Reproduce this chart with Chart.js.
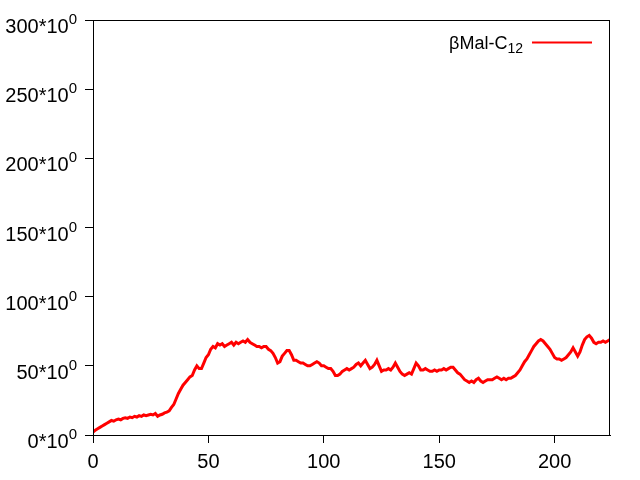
<!DOCTYPE html>
<html>
<head>
<meta charset="utf-8">
<script src="https://cdn.jsdelivr.net/npm/chart.js@4.4.0/dist/chart.umd.min.js"></script>
<style>
    html, body { margin: 0; padding: 0; background: #fff; }
    #wrap { width: 640px; height: 480px; }
</style>
</head>
<body>
<div id="wrap"><canvas id="chart"></canvas></div>
<script>
// time axis (one sample per unit)
const timeStart = 0;
const timeEnd = 224;
const seriesLabel = "βMal-C";
const seriesSub = "12";
const seriesValues = [
    2, 3.5, 4.5, 5.5, 6.5, 7.5, 8.5, 9.5, 10.5, 10,
    11, 11.5, 11, 12, 12.5, 12, 13, 12.5, 13.5, 13,
    14, 13.5, 14.5, 14, 14.5, 15, 14.5, 15.5, 13.5, 14.5,
    15, 16, 16.5, 17.5, 20, 22, 26, 30, 33, 36,
    38, 40, 42, 43, 47, 50, 48, 48, 52, 56,
    58, 62, 64, 63, 66, 65, 66, 64, 65, 66,
    67, 65, 67, 66, 67, 68, 67, 69, 67, 66,
    65, 64, 64, 63, 64, 64, 62, 61, 59, 56,
    52, 53, 57, 59, 61, 61, 58, 54, 54, 53,
    52, 52, 51, 50, 50, 51, 52, 53, 52, 50,
    50, 49, 48, 48, 46, 43, 43, 44, 46, 47,
    48, 47, 48, 49, 51, 52, 50, 52, 54, 51,
    48, 49, 51, 54, 50, 46, 47, 47, 48, 47,
    49, 52, 49, 46, 44, 43, 44, 45, 44, 48,
    52, 50, 47, 47, 48, 47, 46, 46, 47, 46,
    47, 47, 48, 47, 48, 49, 49, 47, 45, 44,
    42, 40, 39, 38, 39, 38, 40, 41, 39, 38,
    39, 40, 40, 40, 41, 42, 41, 40, 41, 40,
    41, 41, 42, 43, 45, 47, 50, 53, 55, 58,
    61, 64, 66, 68, 69, 68, 66, 64, 62, 59,
    56, 55, 55, 54, 55, 56, 58, 60, 63, 60,
    57, 60, 65, 69, 71, 72, 70, 67, 66, 67,
    67, 68, 67, 68, 69
];
const xTicks = [0, 50, 100, 150, 200];
const yTicks = [0, 50, 100, 150, 200, 250, 300];

const FONT = "'Liberation Sans', Arial, sans-serif";

// gnuplot style: box border, y labels with superscript, legend at top right
const gnuplotLook = {
    id: "gnuplotLook",
    afterDraw(chart) {
        const ctx = chart.ctx;
        const area = chart.chartArea;
        const yScale = chart.scales.y;

        ctx.save();
        ctx.strokeStyle = "#000";
        ctx.lineWidth = 1;
        ctx.strokeRect(area.left + 0.5, area.top + 0.5, area.right - area.left - 1, area.bottom - area.top);

        // y tick labels "N*10^0"
        ctx.fillStyle = "#000";
        ctx.textBaseline = "alphabetic";
        yTicks.forEach((v) => {
            const py = yScale.getPixelForValue(v);
            ctx.font = "15px " + FONT;
            ctx.textAlign = "right";
            ctx.fillText("0", 77, py + 4);
            const supW = ctx.measureText("0").width;
            ctx.font = "20px " + FONT;
            ctx.fillText(v + "*10", 77 - supW, py + 13);
        });

        // legend
        ctx.font = "18px " + FONT;
        ctx.textAlign = "left";
        const mainW = ctx.measureText(seriesLabel).width;
        ctx.font = "14px " + FONT;
        const subW = ctx.measureText(seriesSub).width;
        const textRight = 523;
        const textLeft = textRight - subW - mainW;
        ctx.font = "18px " + FONT;
        ctx.fillText(seriesLabel, textLeft, 49);
        ctx.font = "14px " + FONT;
        ctx.fillText(seriesSub, textLeft + mainW, 53);
        ctx.strokeStyle = "#ff0000";
        ctx.lineWidth = 2;
        ctx.beginPath();
        ctx.moveTo(532, 42.5);
        ctx.lineTo(592, 42.5);
        ctx.stroke();
        ctx.restore();
    }
};

const points = seriesValues.map((v, i) => ({ x: timeStart + i, y: v }));

new Chart(document.getElementById("chart"), {
    type: "line",
    data: {
        datasets: [
            {
                label: seriesLabel + seriesSub,
                data: points,
                borderColor: "#ff0000",
                borderWidth: 3,
                pointRadius: 0,
                tension: 0,
                fill: false,
            },
        ],
    },
    options: {
        responsive: true,
        maintainAspectRatio: false,
        animation: false,
        layout: { padding: { top: 20, right: 30, left: 0, bottom: 0 } },
        plugins: {
            legend: { display: false },
            tooltip: { enabled: false },
        },
        scales: {
            x: {
                type: "linear",
                min: timeStart,
                max: timeEnd,
                afterBuildTicks: (scale) => {
                    scale.ticks = xTicks.map((v) => ({ value: v }));
                },
                afterFit: (scale) => { scale.height = 45; },
                grid: { drawOnChartArea: false, drawTicks: true, tickLength: 8, color: "#000" },
                border: { display: true, color: "#000" },
                ticks: {
                    color: "#000",
                    font: { family: FONT, size: 20 },
                    padding: 7,
                    maxRotation: 0,
                    autoSkip: false,
                },
            },
            y: {
                type: "linear",
                min: 0,
                max: 300,
                afterBuildTicks: (scale) => {
                    scale.ticks = yTicks.map((v) => ({ value: v }));
                },
                afterFit: (scale) => { scale.width = 93; },
                grid: { drawOnChartArea: false, drawTicks: true, tickLength: 8, color: "#000" },
                border: { display: true, color: "#000" },
                ticks: { display: false },
            },
        },
    },
    plugins: [gnuplotLook],
});
</script>
</body>
</html>
